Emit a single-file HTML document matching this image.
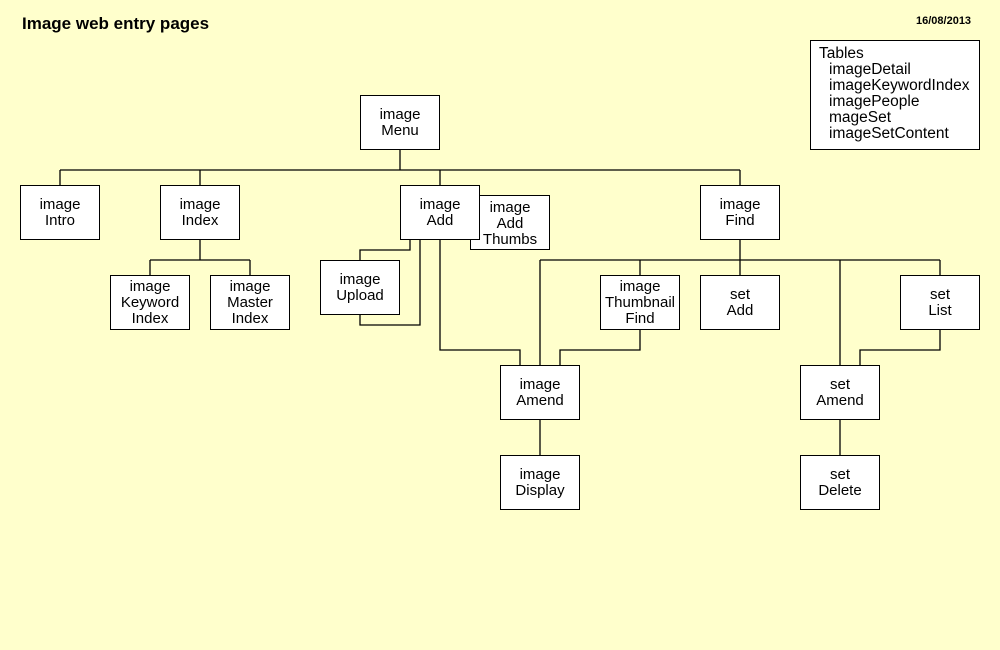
<!DOCTYPE html><html><head><style>
body{margin:0;width:1000px;height:650px;background:#ffffcc;position:relative;font-family:"Liberation Sans",sans-serif;overflow:hidden}
.b{position:absolute;width:78px;height:53px;border:1px solid #000;background:#fff;text-align:center;font-size:15px;line-height:16px;box-sizing:content-box}
.b span{display:block;padding-top:11px}
</style></head><body>
<div style="position:absolute;left:22px;top:14px;font-weight:bold;font-size:17px">Image web entry pages</div>
<div style="position:absolute;left:916px;top:15px;font-weight:bold;font-size:11px">16/08/2013</div>
<div style="position:absolute;left:810px;top:40px;width:170px;height:110px;border:1px solid #000;background:#fff;font-size:15.5px;line-height:16px;padding:5px 0 0 8px;box-sizing:border-box">Tables<div style="padding-left:10px">imageDetail<br>imageKeywordIndex<br>imagePeople<br>mageSet<br>imageSetContent</div></div>
<svg width="1000" height="650" style="position:absolute;left:0;top:0" fill="none" stroke="#000" stroke-width="1.3">
<path d="M400 150V170M60 170H740M60 170V185M200 170V185M440 170V185M740 170V185"/>
<path d="M200 240V260M150 260H250M150 260V275M250 260V275"/>
<path d="M410 240V250H360V260M420 240V325H360V315M440 240V350H520V365"/>
<path d="M740 240V260M540 260H940M540 260V365M640 260V275M740 260V275M840 260V365M940 260V275"/>
<path d="M640 330V350H560V365M940 330V350H860V365M540 420V455M840 420V455"/>
</svg>
<div class="b" style="left:360px;top:95px"><span>image<br>Menu</span></div>
<div class="b" style="left:20px;top:185px"><span>image<br>Intro</span></div>
<div class="b" style="left:160px;top:185px"><span>image<br>Index</span></div>
<div class="b" style="left:470px;top:195px"><span style="padding-top:4px">image<br>Add<br>Thumbs</span></div>
<div class="b" style="left:400px;top:185px"><span>image<br>Add</span></div>
<div class="b" style="left:700px;top:185px"><span>image<br>Find</span></div>
<div class="b" style="left:110px;top:275px"><span style="padding-top:3px">image<br>Keyword<br>Index</span></div>
<div class="b" style="left:210px;top:275px"><span style="padding-top:3px">image<br>Master<br>Index</span></div>
<div class="b" style="left:320px;top:260px"><span>image<br>Upload</span></div>
<div class="b" style="left:600px;top:275px"><span style="padding-top:3px">image<br>Thumbnail<br>Find</span></div>
<div class="b" style="left:700px;top:275px"><span>set<br>Add</span></div>
<div class="b" style="left:900px;top:275px"><span>set<br>List</span></div>
<div class="b" style="left:500px;top:365px"><span>image<br>Amend</span></div>
<div class="b" style="left:800px;top:365px"><span>set<br>Amend</span></div>
<div class="b" style="left:500px;top:455px"><span>image<br>Display</span></div>
<div class="b" style="left:800px;top:455px"><span>set<br>Delete</span></div>
</body></html>
